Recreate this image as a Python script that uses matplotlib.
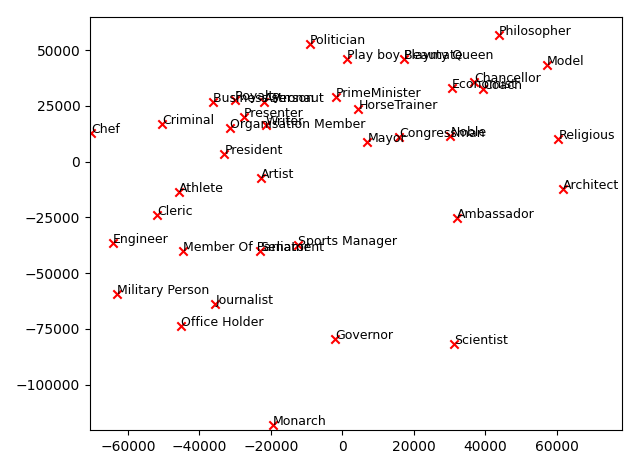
import matplotlib
matplotlib.use("Agg")
import matplotlib.pyplot as plt
import numpy as np

# occupation labels and their 2-D embedding coordinates
labels = [
    "Chef", "Politician", "Play boy Playmate", "Beauty Queen", "Philosopher",
    "Model", "Chancellor", "Economist", "Coach", "Business Person",
    "Royalty", "Astronaut", "PrimeMinister", "HorseTrainer", "Criminal",
    "Presenter", "Organisation Member", "Writer", "Mayor", "Congressman",
    "Noble", "Religious", "President", "Artist", "Athlete",
    "Architect", "Cleric", "Ambassador", "Engineer", "Member Of Parliament",
    "Senator", "Sports Manager", "Military Person", "Journalist",
    "Office Holder", "Governor", "Scientist", "Monarch",
]
xs = [
    -70200, -9090, 1300, 17200, 43800,
    57200, 36800, 30700, 39400, -36150,
    -30070, -21860, -1820, 4440, -50490,
    -27550, -31470, -21400, 7000, 15900,
    30170, 60380, -33050, -22800, -45800,
    61680, -51800, 32030, -64100, -44500,
    -23080, -12350, -62970, -35560, -45170,
    -2000, 31190, -19440,
]
ys = [
    12800, 52780, 45900, 45900, 56820,
    43200, 35940, 32900, 32450, 26800,
    27500, 26970, 28860, 23630, 16900,
    20190, 14960, 16460, 8980, 10930,
    11520, 10180, 3300, -7460, -13740,
    -12240, -23900, -25250, -36610, -39900,
    -39900, -37360, -59480, -63960, -73530,
    -79510, -81750, -118070,
]

fig = plt.figure(figsize=(6.4, 4.68), dpi=100)
ax = fig.add_axes([90 / 640, 1 - 430 / 468, 532 / 640, 413 / 468])

ax.scatter(xs, ys, marker="x", color="red")
for x, y, name in zip(xs, ys, labels):
    ax.text(x, y, name, fontsize=9)

ax.set_xlim(-70600, 78200)
ax.set_ylim(-120300, 64900)
ax.set_xticks(np.arange(-60000, 60001, 20000))
ax.set_yticks(np.arange(-100000, 50001, 25000))

fig.savefig("out.png", dpi=100)
